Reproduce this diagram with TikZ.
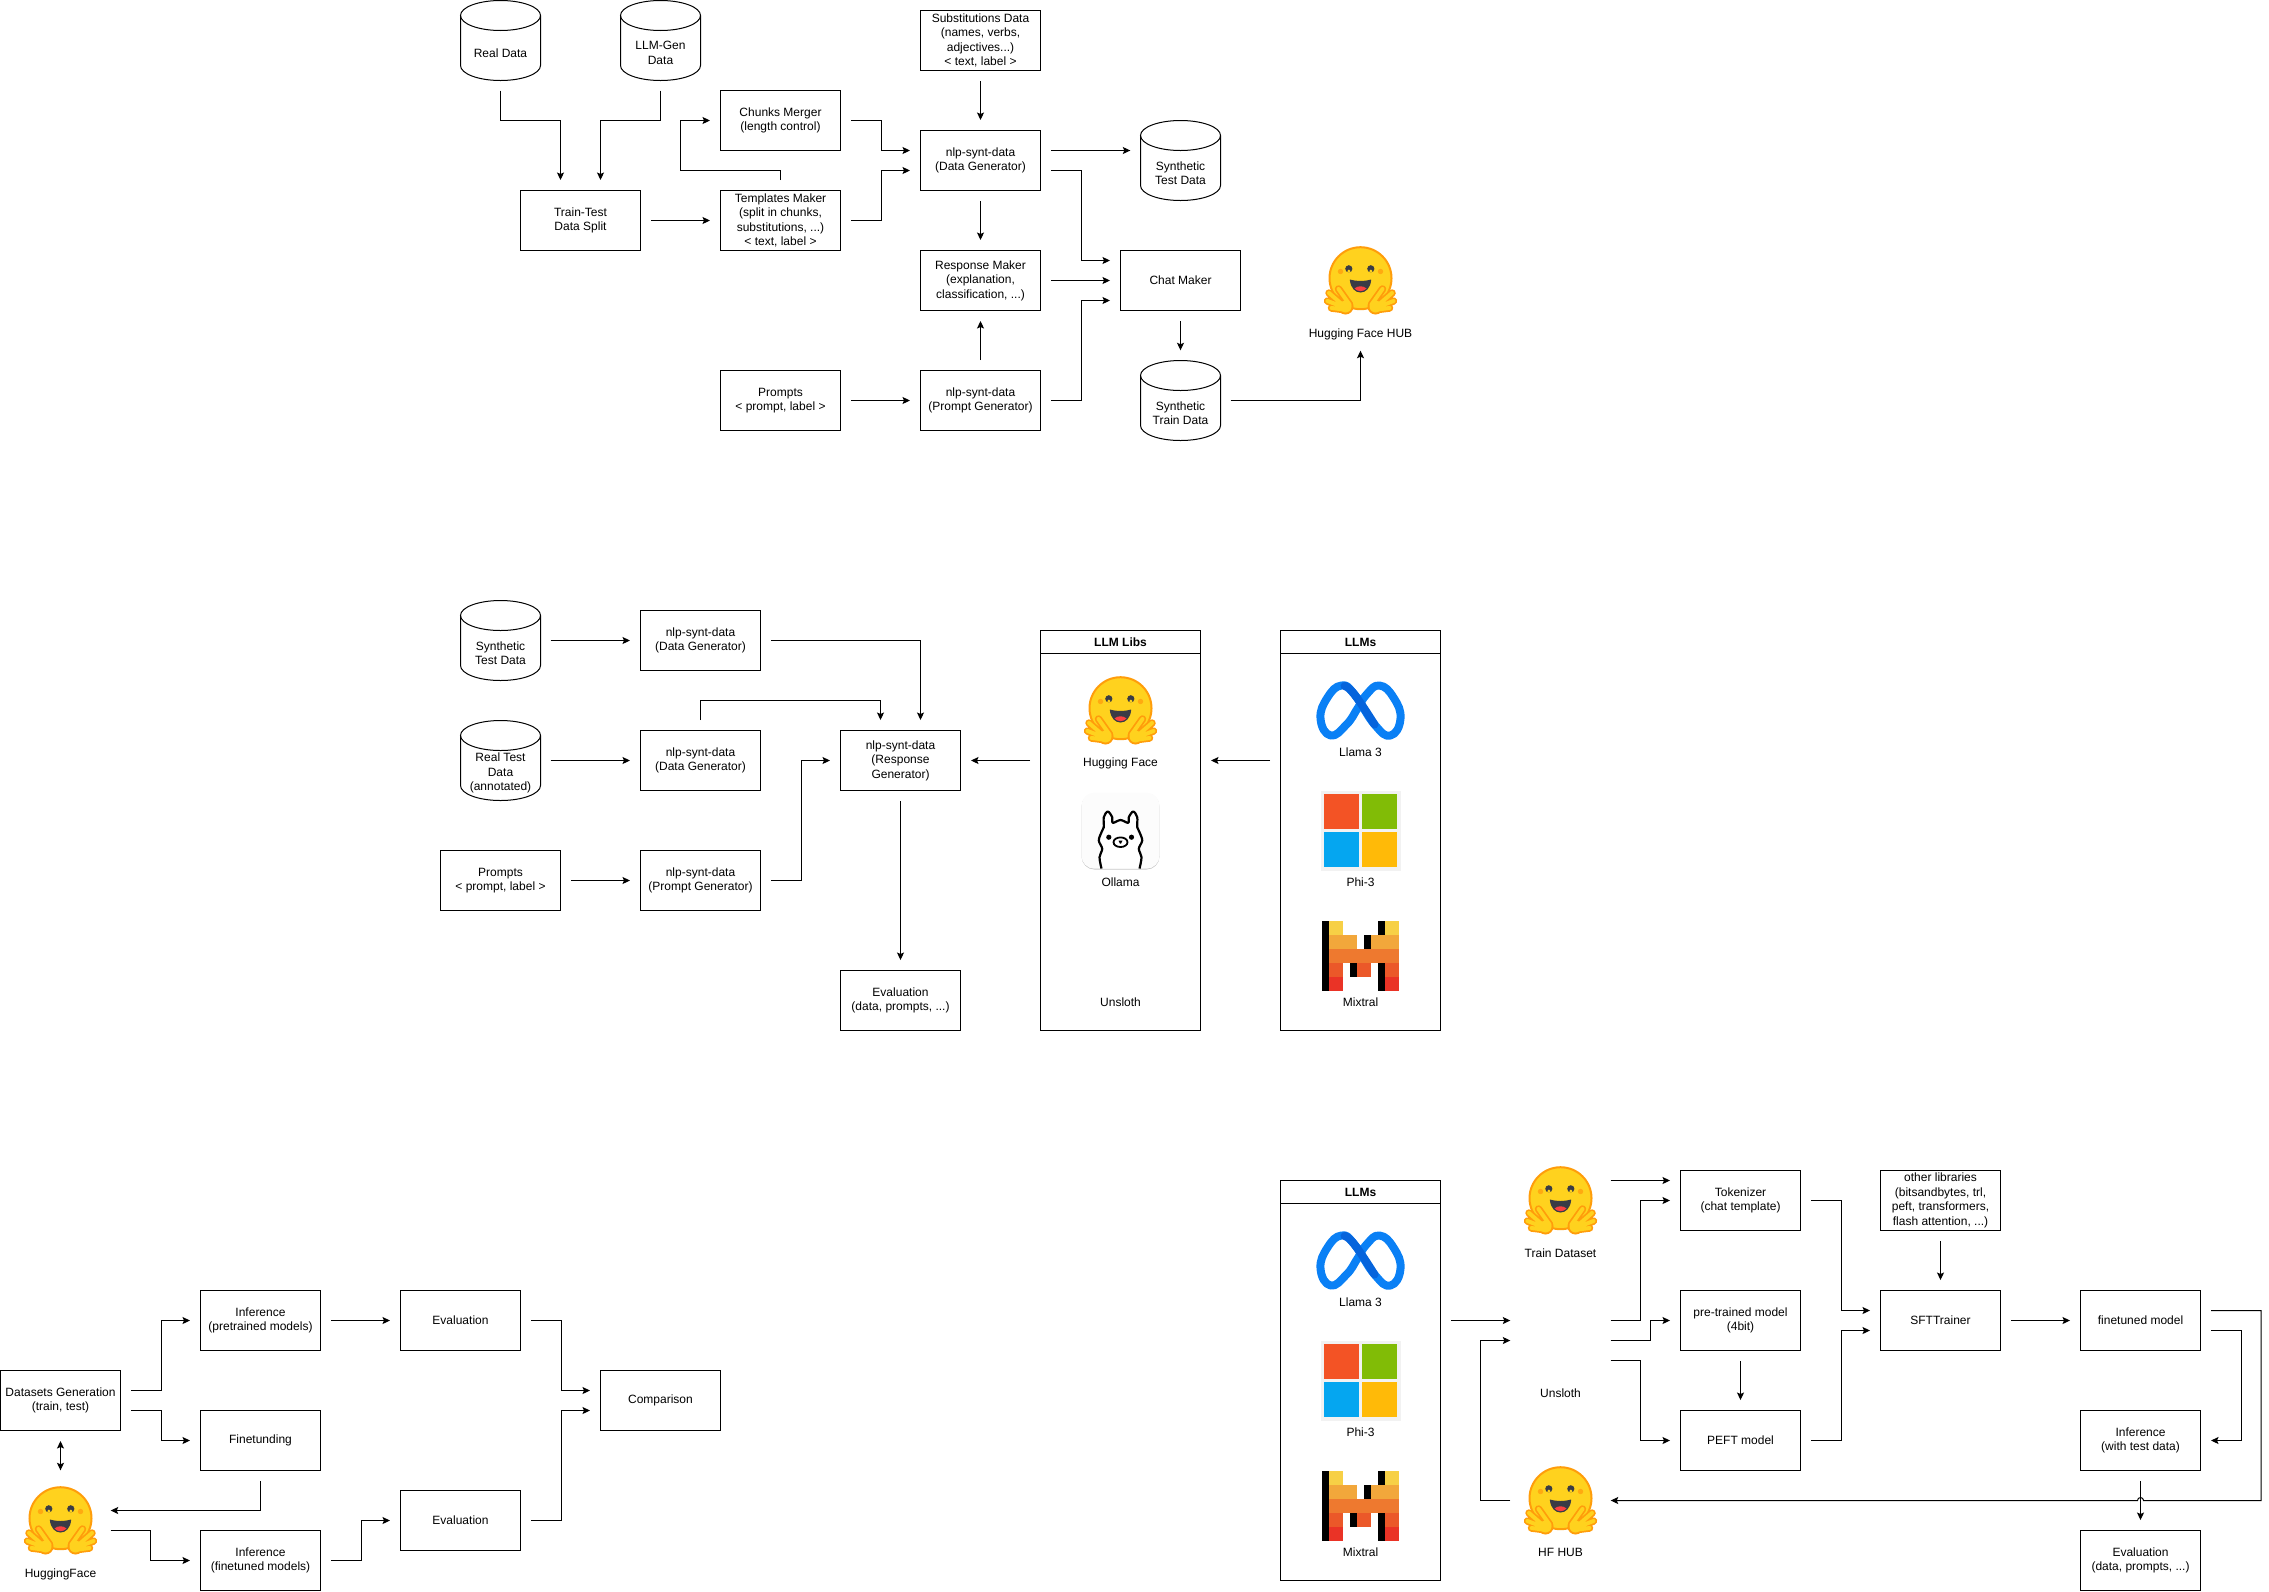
\documentclass[tikz,border=0pt]{standalone}
\usepackage{fontspec}
\setmainfont{Liberation Sans}
\usetikzlibrary{positioning, arrows.meta}

\definecolor{hf_yellow}{HTML}{FFD21E}
\definecolor{hf_orange}{HTML}{FF9D0B}
\definecolor{hf_dark}{HTML}{3A3B45}
\definecolor{hf_red}{HTML}{F94040}
\definecolor{meta_light}{HTML}{0A80F5}
\definecolor{meta_dark}{HTML}{0664DC}
\definecolor{ms_red}{HTML}{F35325}
\definecolor{ms_green}{HTML}{81BC06}
\definecolor{ms_blue}{HTML}{05A6F0}
\definecolor{ms_yellow}{HTML}{FFBA08}
\definecolor{mis_a}{HTML}{F7D046}
\definecolor{mis_b}{HTML}{F2A73B}
\definecolor{mis_c}{HTML}{EE792F}
\definecolor{mis_d}{HTML}{EB5829}
\definecolor{mis_e}{HTML}{EA3326}

\tikzset{
    pics/cyl_outline/.style={code={
        \draw[line width=1pt] (0,-25) ellipse[x radius=40, y radius=15];
        \draw[line width=1pt] (-40,-25) -- (-40,25) arc[start angle=180, end angle=0, x radius=40, y radius=15] -- (40,-25);
    }},
    pics/hf_hand/.style={code={
        \draw[hf_orange, line width=7.5pt, line cap=round]
            (-22,8.5) -- (-11,24) (-31.5,12.5) -- (-16,26) (-33,20.5) -- (-16,27) (-29,27.5) -- (-17,29);
        \fill[hf_orange] (-15,26) circle[radius=8];
        \draw[hf_yellow, line width=4pt, line cap=round]
            (-22,8.5) -- (-11,24) (-31.5,12.5) -- (-16,26) (-33,20.5) -- (-16,27) (-29,27.5) -- (-17,29);
        \fill[hf_yellow] (-15,26) circle[radius=6];
    }},
    pics/hf_face/.style={code={
        \fill[hf_yellow, draw=hf_orange, line width=2pt] (0,-2.3) circle[radius=31];
        \fill[hf_dark] (-11.7,-11.7) circle[radius=3.6] (10.3,-11.7) circle[radius=3.6];
        \fill[hf_yellow] (-11.7,-9.4) circle[radius=1.6] (10.3,-9.4) circle[radius=1.6];
        \fill[hf_orange!75!hf_yellow] (-20,-9) circle[radius=2.7] (20,-9) circle[radius=2.7];
        \fill[hf_dark] (-10.7,-1) .. controls (-10,8) and (-5,12) .. (0,12) .. controls (5,12) and (10,8) .. (10.7,-1) .. controls (4,1) and (-4,1) .. cycle;
        \fill[hf_red] (-6,8) .. controls (-3,5) and (3,5) .. (6,8) .. controls (3,11.5) and (-3,11.5) .. cycle;
        \pic {hf_hand};
        \pic[xscale=-1] {hf_hand};
    }},
    pics/ollama_logo/.style={code={
        \fill[black!22, rounded corners=13pt] (-39,-37) rectangle (39,39);
        \fill[black!1, rounded corners=13pt] (-39,-38) rectangle (39,38.2);
        \draw[black, fill=white, line width=2.2pt, line join=round] plot[smooth, tension=0.55] coordinates {
            (-19,38) (-21,26.7) (-18.3,18.3) (-21.7,10) (-19,1.7) (-16.7,-3.3) (-16.7,-13.3) (-12.7,-19) (-8.3,-13.3) (-7.7,-7.7)
            (0,-10.5) (7.7,-7.7) (8.3,-13.3) (12.7,-19) (16.7,-13.3) (16.7,-3.3) (19,1.7) (21.7,10) (18.3,18.3) (21,26.7) (19,38)};
        \fill[black] (-11.7,6.7) circle[radius=2.6] (11,6.7) circle[radius=2.6];
        \draw[black, line width=1.8pt] (0,11.7) ellipse[x radius=7, y radius=4.8];
        \fill[black] (-2,10) -- (2,10) -- (0.6,13) -- (-0.6,13) -- cycle;
    }},
    pics/meta_logo/.style={code={
        \draw[meta_light, line width=8pt, line join=round] plot[smooth cycle, tension=0.8] coordinates {
            (-30,25) (-40,8) (-33,-13) (-19,-25) (-6,-16) (14,14) (30,25) (40,8) (33,-13) (19,-25) (6,-16) (-3,-2) (-14,14)};
        \draw[meta_dark, line width=8pt, line cap=round] plot[smooth, tension=0.8] coordinates {(-16,-24.5) (-6,-16) (14,14)};
    }},
    pics/ms_logo/.style={code={
        \fill[black!5] (-40,-40) rectangle (40,40);
        \fill[ms_red] (-36.7,-36.7) rectangle (-1.7,-1.7);
        \fill[ms_green] (1.7,-36.7) rectangle (36.7,-1.7);
        \fill[ms_blue] (-36.7,1.7) rectangle (-1.7,36.7);
        \fill[ms_yellow] (1.7,1.7) rectangle (36.7,36.7);
    }},
    pics/mistral_logo/.style={code={
        \fill[black] (-38.3,-35) rectangle (-31.7,35);
        \fill[black] (3.3,-21) rectangle (10.3,-7);
        \fill[black] (-10.7,7) rectangle (-3.3,21);
        \fill[mis_a] (-31.7,-35) rectangle (-17.3,-21);
        \fill[mis_a] (24.3,-35) rectangle (38.3,-21);
        \fill[mis_b] (-31.7,-21) rectangle (-3.3,-7);
        \fill[mis_b] (10.3,-21) rectangle (38.3,-7);
        \fill[mis_c] (-31.7,-7) rectangle (38.3,7);
        \fill[mis_d] (-31.7,7) rectangle (-17.3,21);
        \fill[mis_d] (-3.3,7) rectangle (10.3,21);
        \fill[mis_d] (24.3,7) rectangle (38.3,21);
        \fill[mis_e] (-31.7,21) rectangle (-17.3,35);
        \fill[mis_e] (24.3,21) rectangle (38.3,35);
        \fill[black] (17.3,-35) rectangle (24.3,-21);
        \fill[black] (17.3,7) rectangle (24.3,35);
    }},
}

\begin{document}
\begin{tikzpicture}
    [
        x=1pt, y=-1pt, on grid,
        label_font/.style={font=\fontsize{12}{14.5}\selectfont},
        box_node/.style={rectangle, draw=black, line width=1pt, minimum width=120pt, minimum height=60pt, inner sep=0pt, align=center, label_font},
        cyl_node/.style={rectangle, minimum width=80pt, minimum height=80pt, inner sep=0pt},
        cyl_text/.style={yshift=-12.5pt, inner sep=0pt, align=center, label_font},
        image_node/.style={rectangle, minimum width=80pt, minimum height=80pt, inner sep=0pt},
        text_node/.style={inner sep=0pt, minimum height=12pt, text height=9pt, text depth=3pt, label_font},
        panel_node/.style={rectangle, draw=black, line width=1pt, minimum width=160pt, minimum height=400pt, inner sep=0pt},
        panel_head/.style={rectangle, draw=black, line width=1pt, minimum width=160pt, minimum height=23pt, inner sep=0pt, font=\fontsize{12}{15}\selectfont\bfseries},
        flow_arrow/.style={-{Stealth[length=7.5pt, width=7pt, inset=1.5pt]}, line width=1pt, shorten >=10pt, shorten <=10pt},
    ]
        \useasboundingbox (-0.5,-0.5) rectangle (2268.5,1590.5);

        % data generation
        \node[cyl_node, label={[cyl_text]center:{Real Data}}] (real) at (500,40) {} ;
        \pic at (real) {cyl_outline};
        \node[cyl_node, label={[cyl_text]center:{LLM-Gen\\Data}}] (llmgen) [right = 160pt of real] {} ;
        \pic at (llmgen) {cyl_outline};
        \node[box_node] (split) [below right = 180pt and 80pt of real] {Train-Test\\Data Split} ;
        \node[box_node] (templates) [right = 200pt of split] {Templates Maker\\(split in chunks,\\substitutions, ...)\\< text, label >} ;
        \node[box_node] (merger) [above = 100pt of templates] {Chunks Merger\\(length control)} ;
        \node[box_node] (prompts) [below = 180pt of templates] {Prompts\\< prompt, label >} ;
        \node[box_node] (datagen) [below right = 40pt and 200pt of merger] {nlp-synt-data\\(Data Generator)} ;
        \node[box_node] (subs) [above = 120pt of datagen] {Substitutions Data\\(names, verbs,\\adjectives...)\\< text, label >} ;
        \node[box_node] (respmaker) [below = 120pt of datagen] {Response Maker\\(explanation,\\classification, ...)} ;
        \node[box_node] (promptgen) [below = 120pt of respmaker] {nlp-synt-data\\(Prompt Generator)} ;
        \node[cyl_node, label={[cyl_text]center:{Synthetic\\Test Data}}] (synthtest) [right = 200pt of datagen] {} ;
        \pic at (synthtest) {cyl_outline};
        \node[box_node] (chat) [right = 200pt of respmaker] {Chat Maker} ;
        \node[cyl_node, label={[cyl_text]center:{Synthetic\\Train Data}}] (synthtrain) [right = 200pt of promptgen] {} ;
        \pic at (synthtrain) {cyl_outline};
        \node[image_node] (hub) [right = 180pt of chat] {} ;
        \node[text_node] (hub_text) [below = 54pt of hub] {Hugging Face HUB} ;
        \pic at (hub) {hf_face};

        \draw[flow_arrow] (real.south) -- ++(0,40) -| ([xshift=-20pt]split.north) ;
        \draw[flow_arrow] (llmgen.south) -- ++(0,40) -| ([xshift=20pt]split.north) ;
        \draw[flow_arrow] (split.east) -- (templates.west) ;
        \draw[flow_arrow] (templates.north) -- ++(0,-20) -- ++(-100,0) |- (merger.west) ;
        \draw[flow_arrow] (merger.east) -- ++(40,0) |- ([yshift=10pt]datagen.west) ;
        \draw[flow_arrow] (templates.east) -- ++(40,0) |- ([yshift=-10pt]datagen.west) ;
        \draw[flow_arrow] (subs.south) -- (datagen.north) ;
        \draw[flow_arrow] (datagen.south) -- (respmaker.north) ;
        \draw[flow_arrow] (promptgen.north) -- (respmaker.south) ;
        \draw[flow_arrow] (prompts.east) -- (promptgen.west) ;
        \draw[flow_arrow] ([yshift=10pt]datagen.east) -- ([yshift=10pt]synthtest.west) ;
        \draw[flow_arrow] ([yshift=-10pt]datagen.east) -- ++(40,0) |- ([yshift=20pt]chat.west) ;
        \draw[flow_arrow] (respmaker.east) -- (chat.west) ;
        \draw[flow_arrow] (promptgen.east) -- ++(40,0) |- ([yshift=-20pt]chat.west) ;
        \draw[flow_arrow] (chat.south) -- (synthtrain.north) ;
        \draw[flow_arrow] (synthtrain.east) -| (hub_text.south) ;

        % response generation
        \node[cyl_node, label={[cyl_text]center:{Synthetic\\Test Data}}] (testcyl) at (500,640) {} ;
        \pic at (testcyl) {cyl_outline};
        \node[cyl_node, label={[cyl_text]center:{Real Test\\Data\\(annotated)}}] (realcyl) [below = 120pt of testcyl] {} ;
        \pic at (realcyl) {cyl_outline};
        \node[box_node] (evalprompts) [below = 120pt of realcyl] {Prompts\\< prompt, label >} ;
        \node[box_node] (gen_a) [right = 200pt of testcyl] {nlp-synt-data\\(Data Generator)} ;
        \node[box_node] (gen_b) [right = 200pt of realcyl] {nlp-synt-data\\(Data Generator)} ;
        \node[box_node] (gen_c) [right = 200pt of evalprompts] {nlp-synt-data\\(Prompt Generator)} ;
        \node[box_node] (respgen) [right = 200pt of gen_b] {nlp-synt-data\\(Response\\Generator)} ;
        \node[box_node] (evalresp) [below = 240pt of respgen] {Evaluation\\(data, prompts, ...)} ;
        \node[panel_node] (libs) at (1120,830) {} ;
        \node[panel_head, anchor=north] (libs_head) at (libs.north) {LLM Libs} ;
        \node[image_node] (libs_hf) at (1120,710) {} ;
        \pic at (libs_hf) {hf_face};
        \node[text_node] (libs_hf_text) [below = 53pt of libs_hf] {Hugging Face} ;
        \node[image_node] (libs_ollama) [below = 120pt of libs_hf] {} ;
        \pic at (libs_ollama) {ollama_logo};
        \node[text_node] (libs_ollama_text) [below = 53pt of libs_ollama] {Ollama} ;
        \node[text_node] (libs_unsloth_text) [below = 120pt of libs_ollama_text] {Unsloth} ;
        \node[panel_node] (llms) at (1360,830) {} ;
        \node[panel_head, anchor=north] (llms_head) at (llms.north) {LLMs} ;
        \node[image_node] (llms_meta) at (1360,710) {} ;
        \pic at (llms_meta) {meta_logo};
        \node[text_node] (llms_meta_text) [below = 43pt of llms_meta] {Llama 3} ;
        \node[image_node] (llms_ms) at (1360,830) {} ;
        \pic at (llms_ms) {ms_logo};
        \node[text_node] (llms_ms_text) [below = 53pt of llms_ms] {Phi-3} ;
        \node[image_node] (llms_mistral) at (1360,955) {} ;
        \pic at (llms_mistral) {mistral_logo};
        \node[text_node] (llms_mistral_text) [below = 48pt of llms_mistral] {Mixtral} ;

        \draw[flow_arrow] (testcyl.east) -- (gen_a.west) ;
        \draw[flow_arrow] (realcyl.east) -- (gen_b.west) ;
        \draw[flow_arrow] (evalprompts.east) -- (gen_c.west) ;
        \draw[flow_arrow] (gen_a.east) -| ([xshift=20pt]respgen.north) ;
        \draw[flow_arrow] (gen_b.north) -- ++(0,-30) -| ([xshift=-20pt]respgen.north) ;
        \draw[flow_arrow] (gen_c.east) -- ++(40,0) |- (respgen.west) ;
        \draw[flow_arrow] (respgen.south) -- (evalresp.north) ;
        \draw[flow_arrow] ([yshift=70pt]libs.west) -- (respgen.east) ;
        \draw[flow_arrow] ([yshift=70pt]llms.west) -- ([yshift=70pt]libs.east) ;

        % comparison
        \node[box_node] (datasets) at (60,1400) {Datasets Generation\\(train, test)} ;
        \node[box_node] (inf_pre) at (260,1320) {Inference\\(pretrained models)} ;
        \node[box_node] (finetune) [below = 120pt of inf_pre] {Finetunding} ;
        \node[box_node] (inf_fin) [below = 120pt of finetune] {Inference\\(finetuned models)} ;
        \node[box_node] (eval_pre) [right = 200pt of inf_pre] {Evaluation} ;
        \node[box_node] (eval_fin) at (460,1520) {Evaluation} ;
        \node[box_node] (compare) at (660,1400) {Comparison} ;
        \node[image_node] (cmp_hf) [below = 120pt of datasets] {} ;
        \pic at (cmp_hf) {hf_face};
        \node[text_node] (cmp_hf_text) [below = 54pt of cmp_hf] {HuggingFace} ;

        \draw[flow_arrow] ([yshift=10pt]datasets.east) -- ++(40,0) |- (inf_pre.west) ;
        \draw[flow_arrow] ([yshift=-10pt]datasets.east) -- ++(40,0) |- (finetune.west) ;
        \draw[flow_arrow, {Stealth[length=7.5pt, width=7pt, inset=1.5pt]}-{Stealth[length=7.5pt, width=7pt, inset=1.5pt]}] (datasets.south) -- (cmp_hf.north) ;
        \draw[flow_arrow] (finetune.south) |- ([yshift=10pt]cmp_hf.east) ;
        \draw[flow_arrow] ([yshift=-10pt]cmp_hf.east) -- ++(50,0) |- (inf_fin.west) ;
        \draw[flow_arrow] (inf_pre.east) -- (eval_pre.west) ;
        \draw[flow_arrow] (inf_fin.east) -- ++(40,0) |- (eval_fin.west) ;
        \draw[flow_arrow] (eval_pre.east) -- ++(40,0) |- ([yshift=10pt]compare.west) ;
        \draw[flow_arrow] (eval_fin.east) -- ++(40,0) |- ([yshift=-10pt]compare.west) ;

        % finetuning
        \node[panel_node] (base) at (1360,1380) {} ;
        \node[panel_head, anchor=north] (base_head) at (base.north) {LLMs} ;
        \node[image_node] (base_meta) at (1360,1260) {} ;
        \pic at (base_meta) {meta_logo};
        \node[text_node] (base_meta_text) [below = 43pt of base_meta] {Llama 3} ;
        \node[image_node] (base_ms) at (1360,1380) {} ;
        \pic at (base_ms) {ms_logo};
        \node[text_node] (base_ms_text) [below = 53pt of base_ms] {Phi-3} ;
        \node[image_node] (base_mistral) at (1360,1505) {} ;
        \pic at (base_mistral) {mistral_logo};
        \node[text_node] (base_mistral_text) [below = 48pt of base_mistral] {Mixtral} ;
        \node[image_node] (train_hf) at (1560,1200) {} ;
        \pic at (train_hf) {hf_face};
        \node[text_node] (train_hf_text) [below = 54pt of train_hf] {Train Dataset} ;
        \node[image_node] (unsloth) [below = 140pt of train_hf] {} ;
        \node[text_node] (unsloth_text) [below = 54pt of unsloth] {Unsloth} ;
        \node[image_node] (hub_hf) [below = 160pt of unsloth] {} ;
        \pic at (hub_hf) {hf_face};
        \node[text_node] (hub_hf_text) [below = 53pt of hub_hf] {HF HUB} ;
        \node[box_node] (tokenizer) at (1740,1200) {Tokenizer\\(chat template)} ;
        \node[box_node] (pretrained) [below = 120pt of tokenizer] {pre-trained model\\(4bit)} ;
        \node[box_node] (peft) [below = 120pt of pretrained] {PEFT model} ;
        \node[box_node] (otherlibs) [right = 200pt of tokenizer] {other libraries\\(bitsandbytes, trl,\\peft, transformers,\\flash attention, ...)} ;
        \node[box_node] (sfttrainer) [below = 120pt of otherlibs] {SFTTrainer} ;
        \node[box_node] (finetuned) [right = 200pt of sfttrainer] {finetuned model} ;
        \node[box_node] (inf_test) [below = 120pt of finetuned] {Inference\\(with test data)} ;
        \node[box_node] (eval_final) [below = 120pt of inf_test] {Evaluation\\(data, prompts, ...)} ;
        \coordinate (crossing) at (inf_test.south |- hub_hf.east) ;

        \draw[flow_arrow] ([yshift=60pt]base.east) -- ([yshift=20pt]unsloth.west) ;
        \draw[flow_arrow] (hub_hf.west) -- ++(-40,0) |- (unsloth.west) ;
        \draw[flow_arrow] ([yshift=20pt]train_hf.east) -- ([yshift=20pt]tokenizer.west) ;
        \draw[flow_arrow] ([yshift=20pt]unsloth.east) -- ++(40,0) |- (tokenizer.west) ;
        \draw[flow_arrow] (unsloth.east) -- ++(50,0) |- (pretrained.west) ;
        \draw[flow_arrow] ([yshift=-20pt]unsloth.east) -- ++(40,0) |- (peft.west) ;
        \draw[flow_arrow] (pretrained.south) -- (peft.north) ;
        \draw[flow_arrow] (tokenizer.east) -- ++(40,0) |- ([yshift=10pt]sfttrainer.west) ;
        \draw[flow_arrow] (peft.east) -- ++(40,0) |- ([yshift=-10pt]sfttrainer.west) ;
        \draw[flow_arrow] (otherlibs.south) -- (sfttrainer.north) ;
        \draw[flow_arrow] (sfttrainer.east) -- (finetuned.west) ;
        \draw[flow_arrow] ([yshift=-10pt]finetuned.east) -- ++(40,0) |- (inf_test.east) ;
        \draw[flow_arrow] (inf_test.south) -- (eval_final.north) ;
        \draw[flow_arrow] ([yshift=10pt]finetuned.east) -- ++(60,0) |- ([xshift=3pt]crossing) arc[start angle=0, end angle=-180, radius=3] -- (hub_hf.east) ;
\end{tikzpicture}
\end{document}
